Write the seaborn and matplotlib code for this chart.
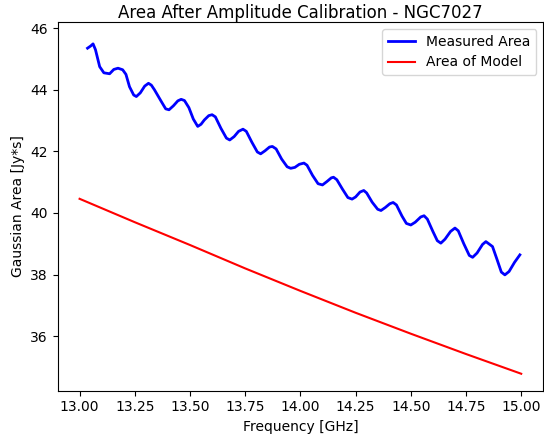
import pandas as pd
import matplotlib
matplotlib.use("Agg")
import matplotlib.pyplot as plt
import seaborn as sns

# Measured area
freq_measured = [
    13.036, 13.050, 13.061, 13.072, 13.091, 13.110, 13.136, 13.155, 13.174,
    13.195, 13.210, 13.226, 13.245, 13.257, 13.275, 13.295, 13.312, 13.325,
    13.339, 13.370, 13.390, 13.405, 13.425, 13.445, 13.460, 13.475, 13.495,
    13.515, 13.535, 13.550, 13.565, 13.585, 13.600, 13.615, 13.640, 13.665,
    13.680, 13.700, 13.720, 13.740, 13.755, 13.780, 13.805, 13.820, 13.840,
    13.860, 13.873, 13.890, 13.915, 13.940, 13.956, 13.975, 13.995, 14.016,
    14.030, 14.055, 14.080, 14.100, 14.120, 14.140, 14.150, 14.165, 14.190,
    14.215, 14.234, 14.250, 14.270, 14.287, 14.300, 14.325, 14.350, 14.365,
    14.385, 14.405, 14.420, 14.435, 14.460, 14.480, 14.500, 14.520, 14.545,
    14.560, 14.575, 14.600, 14.620, 14.636, 14.655, 14.680, 14.700, 14.715,
    14.740, 14.765, 14.780, 14.800, 14.825, 14.840, 14.870, 14.890, 14.910,
    14.926, 14.945, 14.970, 14.994,
]
area_measured = [
    45.35, 45.42, 45.49, 45.30, 44.75, 44.55, 44.52, 44.66, 44.70,
    44.65, 44.50, 44.10, 43.83, 43.78, 43.90, 44.12, 44.21, 44.15,
    44.00, 43.62, 43.38, 43.35, 43.48, 43.64, 43.69, 43.65, 43.42,
    43.05, 42.81, 42.88, 43.02, 43.16, 43.19, 43.12, 42.75, 42.43,
    42.37, 42.48, 42.65, 42.72, 42.65, 42.30, 41.98, 41.92, 42.02,
    42.14, 42.16, 42.08, 41.75, 41.50, 41.45, 41.48, 41.58, 41.62,
    41.55, 41.22, 40.95, 40.91, 41.02, 41.14, 41.16, 41.08, 40.78,
    40.50, 40.45, 40.52, 40.68, 40.73, 40.65, 40.35, 40.12, 40.08,
    40.18, 40.30, 40.34, 40.26, 39.90, 39.66, 39.61, 39.70, 39.87,
    39.91, 39.80, 39.40, 39.10, 39.02, 39.15, 39.40, 39.51, 39.42,
    39.00, 38.62, 38.56, 38.70, 38.98, 39.07, 38.91, 38.50, 38.08,
    37.99, 38.10, 38.40, 38.64,
]

# Model area
freq_model = [13.00, 13.25, 13.50, 13.75, 14.00, 14.25, 14.50, 14.75, 15.00]
area_model = [40.46, 39.70, 38.96, 38.20, 37.47, 36.76, 36.08, 35.42, 34.78]

df_meas = pd.DataFrame({"Frequency": freq_measured, "Area": area_measured})
df_model = pd.DataFrame({"Frequency": freq_model, "Area": area_model})

fig = plt.figure(figsize=(5.44, 4.34), dpi=100)
ax = fig.add_axes([0.1057, 0.0998, 0.893, 0.8495])

sns.lineplot(data=df_meas, x="Frequency", y="Area", color="blue", linewidth=2.0,
             label="Measured Area", sort=False, estimator=None, ax=ax)
sns.lineplot(data=df_model, x="Frequency", y="Area", color="red", linewidth=1.5,
             label="Area of Model", sort=False, estimator=None, ax=ax)

ax.set_xlim(12.9, 15.1)
ax.set_ylim(34.23, 46.2)
ax.set_xticks([13.0, 13.25, 13.5, 13.75, 14.0, 14.25, 14.5, 14.75, 15.0])
ax.set_yticks([36, 38, 40, 42, 44, 46])
ax.set_xlabel("Frequency [GHz]")
ax.set_ylabel("Gaussian Area [Jy*s]")
ax.set_title("Area After Amplitude Calibration - NGC7027", pad=2.5)
ax.legend(loc="upper right")

fig.savefig("out.png", dpi=100)
